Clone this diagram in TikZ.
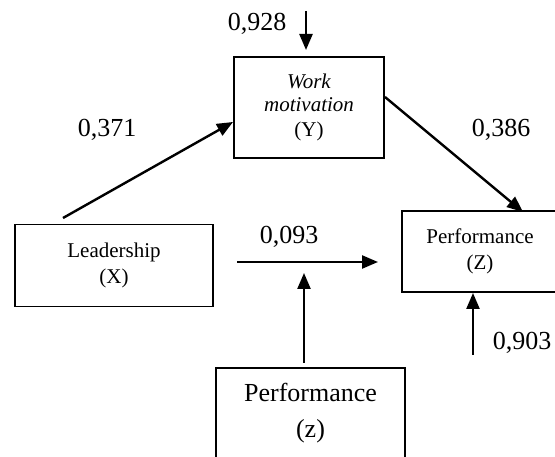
\documentclass[tikz,border=0pt]{standalone}
\usepackage{fontspec}
\setmainfont{Liberation Serif}
\usetikzlibrary{arrows.meta}
\begin{document}
\begin{tikzpicture}[x=1pt,y=-1pt,
  box/.style={draw, line width=1.6pt, inner sep=0pt, align=center},
  small/.style={font=\fontsize{21}{25}\selectfont},
  num/.style={font=\fontsize{26}{30}\selectfont, inner sep=0pt},
  arr/.style={line width=2.4pt, -{Triangle[length=16pt,width=13pt]}}]
\clip (0,0) rectangle (555,457);
\fill[white] (0,0) rectangle (555,457);
% boxes
\node[box, small, minimum width=150pt, minimum height=101pt] (Y) at (309,107.5)
  {\itshape Work\\[-2pt]\itshape motivation\\[0pt](Y)};
\node[box, small, minimum width=198pt, minimum height=82pt] (X) at (114,265.5)
  {Leadership\\[1pt](X)};
\node[box, small, minimum width=156pt, minimum height=81pt] (Z) at (480,251.5)
  {Performance\\[1pt](Z)};
\node[box, minimum width=189pt, minimum height=110pt, text height=70pt] (M) at (310.5,423) {};
\node[font=\fontsize{26}{36}\selectfont, align=center, anchor=north] (Mt) at (310.5,380)
  {Performance\\(z)};
% labels
\node[num] (l928) at (257,24) {0,928};
\node[num] (l371) at (107,130) {0,371};
\node[num] (l386) at (501,130) {0,386};
\node[num] (l093) at (289,237) {0,093};
\node[num] (l903) at (522,343) {0,903};
% free ends
\coordinate (a1) at (306,11);
\coordinate (a2) at (306,50);
\coordinate (b1) at (63,218);
\coordinate (b2) at (233,122);
\coordinate (c1) at (385,97);
\coordinate (c2) at (523,212);
\coordinate (d1) at (237,262);
\coordinate (d2) at (378,262);
\coordinate (e1) at (304,363);
\coordinate (e2) at (304,273);
\coordinate (f1) at (473,355);
\coordinate (f2) at (473,293);
% arrows
\draw[arr] (a1) -- (a2);
\draw[arr] (b1) -- (b2);
\draw[arr] (c1) -- (c2);
\draw[arr] (d1) -- (d2);
\draw[arr] (e1) -- (e2);
\draw[arr] (f1) -- (f2);
\end{tikzpicture}
\end{document}
